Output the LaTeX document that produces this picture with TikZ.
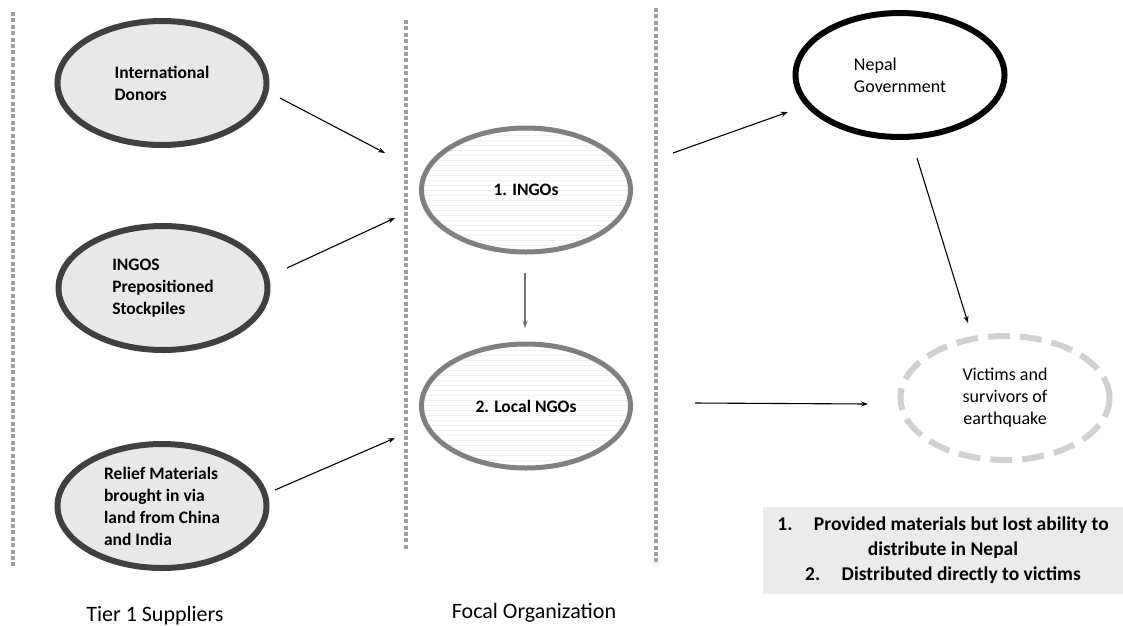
\documentclass[tikz,border=0pt]{standalone}
\usepackage{fontspec}
\setmainfont{Carlito}
\usetikzlibrary{shapes.geometric,arrows.meta,patterns.meta}

\tikzset{
    oval/.style={ellipse,minimum width=209pt,minimum height=124pt,inner sep=0pt,align=left,font=\fontsize{18}{22}\selectfont},
    supplier/.style={oval,draw=black!75,line width=6pt,fill=black!9,font=\fontsize{17.5}{22}\selectfont\bfseries},
    focal/.style={oval,draw=black!50,line width=5pt,pattern={Lines[angle=0,distance=5pt,line width=0.5pt]},pattern color=black!6,font=\fontsize{17.5}{22}\selectfont\bfseries},
    govt/.style={oval,draw=black,line width=6pt,fill=white},
    victim/.style={oval,align=center,draw=black!18,line width=6pt,dash pattern=on 22pt off 10pt},
    divider/.style={draw=black!38,line width=4pt,dash pattern=on 4pt off 2.4pt},
    flow/.style={draw=black,line width=1.1pt,-{Stealth[length=7pt,width=5pt]}},
    caption/.style={anchor=base,font=\fontsize{22}{26}\selectfont}
}

\begin{document}
\begin{tikzpicture}[x=1pt,y=-1pt]
                    \useasboundingbox (0,0) rectangle (1123,625);
                    \draw[divider] (13,12) -- (13,566);
                    \draw[divider] (406,20) -- (406,550);
                    \draw[divider] (656,8) -- (656,563);
                    \node[supplier] (donors) at (162,83) {International\\Donors};
                    \node[supplier] (stock) at (163,288) {INGOS\\Prepositioned\\Stockpiles};
                    \node[supplier] (relief) at (162,506) {Relief Materials\\brought in via\\land from China\\and India};
                    \node[focal] (ingos) at (526,190) {1. INGOs};
                    \node[focal] (local) at (526,406) {2. Local NGOs};
                    \node[govt] (nepal) at (900,75) {Nepal\\Government};
                    \node[victim] (victims) at (1005,398) {Victims and\\survivors of\\earthquake};
                    \node[fill=black!8,minimum width=360pt,minimum height=87pt,align=center,font=\fontsize{19.5}{25}\selectfont\bfseries] (notes) at (943,550)
                        {1.\hspace{1.1em}Provided materials but lost ability to\\distribute in Nepal\\2.\hspace{1.1em}Distributed directly to victims};
                    \node[caption] (tier) at (155,621) {Tier 1 Suppliers};
                    \node[caption] (focalorg) at (534,618) {Focal Organization};
                    \coordinate (donors-out) at (280,98);
                    \coordinate (donors-in) at (385,153);
                    \coordinate (stock-out) at (287,268);
                    \coordinate (stock-in) at (395,218);
                    \coordinate (relief-out) at (275,490);
                    \coordinate (relief-in) at (395,438);
                    \coordinate (ingos-down) at (525,273);
                    \coordinate (local-top) at (525,328);
                    \coordinate (ingos-out) at (673,153);
                    \coordinate (nepal-in) at (788,112);
                    \coordinate (nepal-out) at (917,158);
                    \coordinate (victims-top) at (968,323);
                    \coordinate (local-out) at (695,403);
                    \coordinate (victims-in) at (868,404);
                    \draw[flow] (donors-out) -- (donors-in);
                    \draw[flow] (stock-out) -- (stock-in);
                    \draw[flow] (relief-out) -- (relief-in);
                    \draw[flow,draw=black!55] (ingos-down) -- (local-top);
                    \draw[flow] (ingos-out) -- (nepal-in);
                    \draw[flow] (nepal-out) -- (victims-top);
                    \draw[flow] (local-out) -- (victims-in);
                \end{tikzpicture}
\end{document}
